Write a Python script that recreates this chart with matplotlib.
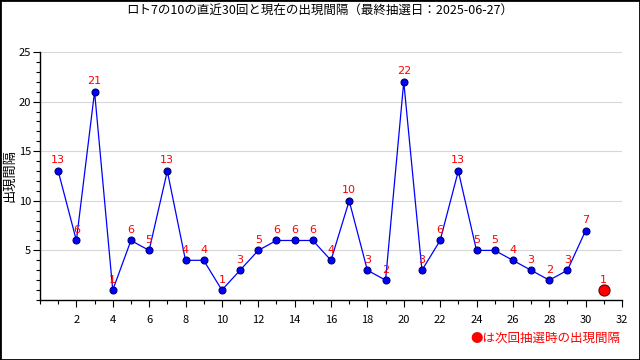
import matplotlib
matplotlib.use("Agg")
import matplotlib.pyplot as plt
from matplotlib.patches import Rectangle
from matplotlib.ticker import MultipleLocator

plt.rcParams['font.family'] = ['Noto Sans CJK JP', 'DejaVu Sans']

draws = list(range(1, 31))
intervals = [13, 6, 21, 1, 6, 5, 13, 4, 4, 1, 3, 5, 6, 6, 6, 4, 10, 3, 2, 22, 3, 6, 13, 5, 5, 4, 3, 2, 3, 7]
current_x = 31
current_val = 1
title = "ロト7の10の直近30回と現在の出現間隔（最終抽選日：2025-06-27）"
ylabel = "出現間隔"
note = "●は次回抽選時の出現間隔"

fig = plt.figure(figsize=(6.4, 3.6), dpi=100)
ax = fig.add_axes([40/640, 60/360, 582/640, 248/360])

ax.plot(draws, intervals, color='blue', lw=0.9, marker='o', ms=5,
        markerfacecolor='blue', markeredgecolor='#000066', markeredgewidth=0.8, zorder=3)
ax.plot([current_x], [current_val], 'o', ms=8, markerfacecolor='red',
        markeredgecolor='#660000', markeredgewidth=0.8, zorder=4)

for x, v in zip(draws + [current_x], intervals + [current_val]):
    ax.annotate(str(v), (x, v), xytext=(0, 4), textcoords='offset points',
                ha='center', va='bottom', color='red', fontsize=8,
                family=['DejaVu Sans'], zorder=5)

ax.set_xlim(0, 32)
ax.set_ylim(0, 25)
ax.xaxis.set_major_locator(MultipleLocator(2))
ax.xaxis.set_minor_locator(MultipleLocator(1))
ax.yaxis.set_major_locator(MultipleLocator(5))
ax.yaxis.set_minor_locator(MultipleLocator(1))
ax.set_yticks([5, 10, 15, 20, 25])
ax.grid(axis='y', color='#d8d8d8', lw=0.8)
ax.set_axisbelow(True)
for s in ['top', 'right']:
    ax.spines[s].set_visible(False)
for s in ['left', 'bottom']:
    ax.spines[s].set_color('black')
    ax.spines[s].set_linewidth(1.0)
ax.tick_params(axis='both', which='major', length=5, direction='out', labelsize=8, width=0.8)
ax.tick_params(axis='both', which='minor', length=3, direction='out', width=0.8)
ax.tick_params(axis='x', pad=6)
ax.tick_params(axis='y', pad=1.5)
ax.set_xticks(range(2, 33, 2))
ax.set_ylabel(ylabel, fontsize=9.5)
ax.yaxis.set_label_coords(-0.04, 0.5)

fig.text(0.5, 1 - 11/360, title, ha='center', va='center', fontsize=9)
fig.text(620/640, 1 - 338/360, note, ha='right', va='center', fontsize=9, color='red')

fig.patches.append(Rectangle((0, 0), 1, 1, transform=fig.transFigure, fill=False,
                             edgecolor='black', lw=2, zorder=10))

fig.savefig('out.png', dpi=100)
